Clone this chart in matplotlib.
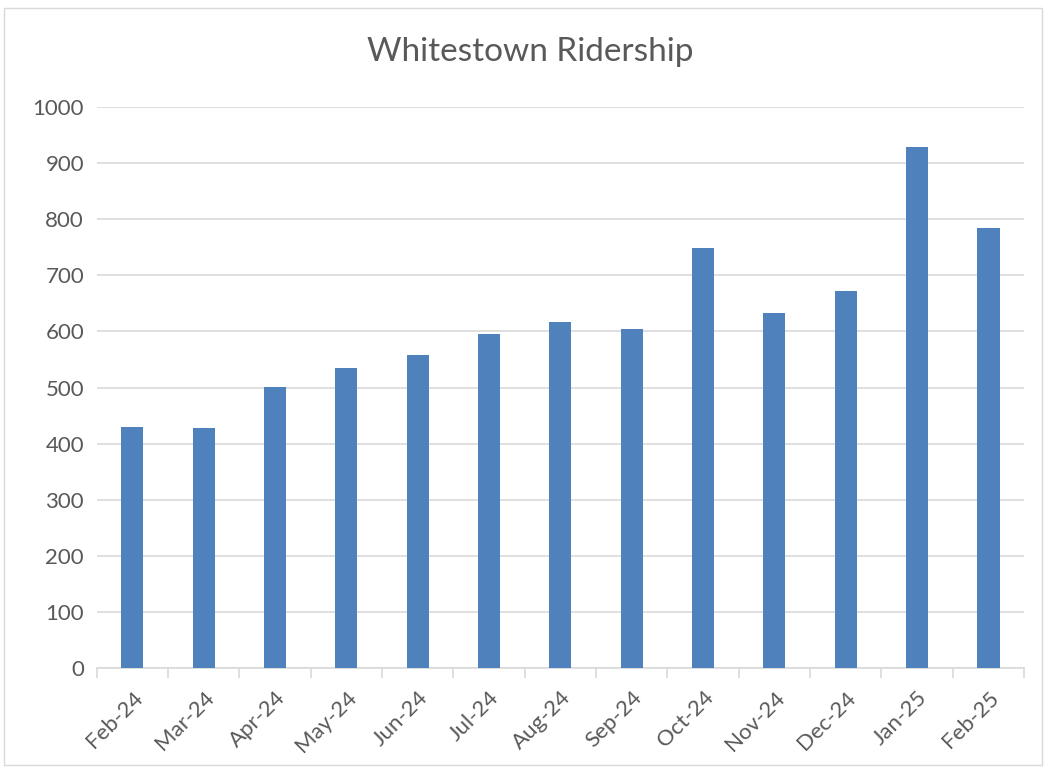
import matplotlib.pyplot as plt
import numpy as np
from matplotlib.patches import Rectangle

months = ['Feb-24', 'Mar-24', 'Apr-24', 'May-24', 'Jun-24', 'Jul-24', 'Aug-24',
          'Sep-24', 'Oct-24', 'Nov-24', 'Dec-24', 'Jan-25', 'Feb-25']
riders = [430, 428, 501, 535, 558, 596, 617, 605, 749, 632, 672, 929, 784]
yticks = [0, 100, 200, 300, 400, 500, 600, 700, 800, 900, 1000]

text_col = '#595959'
grid_col = '#d9d9d9'
bar_col = '#4f81bd'

plt.rcParams['font.family'] = ['Lato', 'DejaVu Sans']

fig = plt.figure(figsize=(10.44, 7.7), dpi=100)
fig.patches.append(Rectangle((0.004, 0.006), 0.994, 0.983, transform=fig.transFigure,
                             fill=False, edgecolor=grid_col, linewidth=1))
ax = fig.add_axes([0.0925, 0.1325, 0.8885, 0.7285])

x = np.arange(len(months))
ax.bar(x, riders, width=0.31, color=bar_col, zorder=3)

ax.set_xlim(-0.5, len(months) - 0.5)
ax.set_ylim(0, 1000)
ax.set_yticks(yticks)
ax.set_yticklabels([str(v) for v in yticks], fontsize=16, color=text_col)
ax.yaxis.grid(True, color=grid_col, linewidth=1.2, zorder=0)
ax.tick_params(axis='y', length=0, pad=9)

# category ticks between bars, labels at bar centres
ax.set_xticks(np.arange(-0.5, len(months), 1.0))
ax.set_xticklabels([])
ax.set_xticks(x, minor=True)
ax.set_xticklabels(months, minor=True, rotation=45, ha='right', va='top',
                   rotation_mode='anchor', fontsize=16, color=text_col)
ax.tick_params(axis='x', which='major', length=7, color=grid_col, width=1.2)
ax.tick_params(axis='x', which='minor', length=0, pad=14)

for s in ['top', 'right', 'left']:
    ax.spines[s].set_visible(False)
ax.spines['bottom'].set_color(grid_col)
ax.spines['bottom'].set_linewidth(1.2)

fig.text(0.508, 0.932, 'Whitestown Ridership', ha='center', va='center',
         fontsize=24, color=text_col)

fig.savefig('out.png', dpi=100)
